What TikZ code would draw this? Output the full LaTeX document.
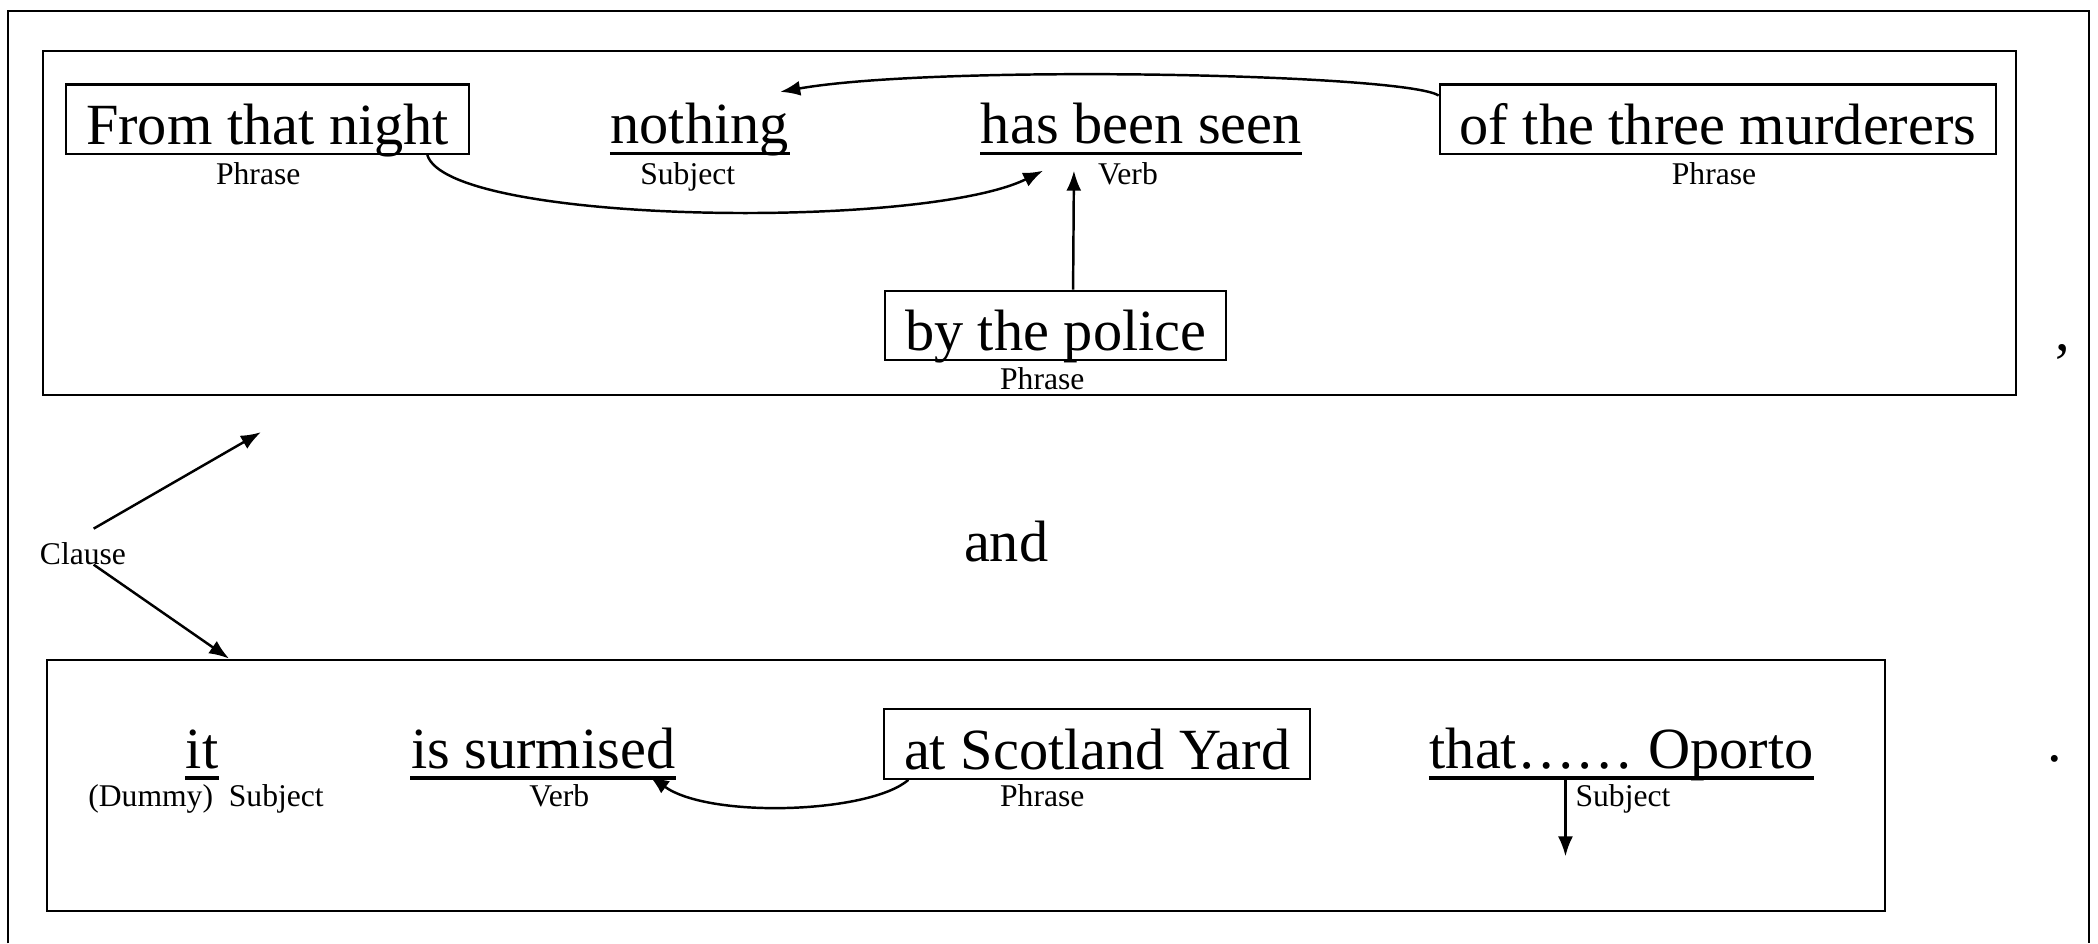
\documentclass[tikz,border=0pt]{standalone}
\usepackage{fontspec}
\setmainfont{Liberation Serif}
\usetikzlibrary{arrows.meta, positioning, calc, fit}

\newcommand{\wordfont}{\fontsize{16.6pt}{19pt}\selectfont}
\newcommand{\tagfont}{\fontsize{9pt}{11pt}\selectfont}

\tikzset{
  phrasebox/.style={draw, line width=0.6pt, inner xsep=0.2cm, inner ysep=0pt, text height=0.6cm, text depth=0.094cm, font=\wordfont, anchor=base},
  ulword/.style={inner sep=0pt, text height=0.6cm, text depth=0.094cm, font=\wordfont, anchor=base},
  tag/.style={inner sep=0pt, font=\tagfont, anchor=base},
  clausebox/.style={draw, line width=0.6pt, inner sep=0pt},
  ulline/.style={line width=1pt},
  arr/.style={-{Latex[length=2mm, width=1.5mm]}, line width=0.7pt},
}

\begin{document}
\begin{tikzpicture}[x=0.01338cm, y=-0.01338cm]
  \useasboundingbox (0,0) rectangle (1568,705);
  % Page frame (open at the bottom)
  \draw[line width=0.6pt] (6,705) -- (6,8) -- (1561,8) -- (1561,705);

  % First clause
  \node[clausebox, fit={(32,38) (1507,295)}] (clauseA) {};
  \node[phrasebox] (night) at (200,108) {From that night};
  \node[tag] (nightTag) at (193,138) {Phrase};
  \node[ulword] (nothing) at (523,107) {nothing};
  \node[tag] (nothingTag) at (514,138) {Subject};
  \node[ulword] (seen) at (853,107) {has been seen};
  \node[tag] (seenTag) at (843,138) {Verb};
  \node[phrasebox] (murder) at (1284,108) {of the three murderers};
  \node[tag] (murderTag) at (1281,138) {Phrase};
  \node[phrasebox] (police) at (789,262) {by the police};
  \node[tag] (policeTag) at (779,291) {Phrase};
  \draw[ulline] (nothing.south west) -- (nothing.south east);
  \draw[ulline] (seen.south west) -- (seen.south east);

  \draw[arr] ($(night.south east)+(-32,0)$) .. controls (335,168) and (690,172) .. ($(seen.south west)+(47,13)$);
  \draw[arr] ($(murder.north west)+(0,9)$) .. controls (1050,55) and (700,48) .. ($(nothing.north east)+(-7,7)$);
  \draw[arr] ($(police.north)+(13,0)$) -- ($(seen.south west)+(70,13)$);
  \node[font=\wordfont, inner sep=0pt, anchor=base] (comma) at (1542,262) {,};

  % Link between the clauses
  \node[tag] (clause) at (62,422) {Clause};
  \node[font=\wordfont, inner sep=0pt, anchor=base] (and) at (752,420) {and};
  \coordinate (upTip) at (195,323);
  \draw[arr] ($(clause.north)+(8,-10)$) -- (upTip);

  % Second clause
  \node[clausebox, fit={(35,493) (1409,681)}] (clauseB) {};
  \draw[arr] ($(clause.base)+(8,0)$) -- ($(clauseB.north west)+(137,0)$);
  \node[ulword] (it) at (151,574) {it};
  \node[tag] (itTag) at (154,603) {(Dummy)~~Subject};
  \node[ulword] (surm) at (406,574) {is surmised};
  \node[tag] (surmTag) at (418,603) {Verb};
  \node[phrasebox] (yard) at (820,575) {at Scotland Yard};
  \node[tag] (yardTag) at (779,603) {Phrase};
  \node[ulword] (oporto) at (1212,574) {that…… Oporto};
  \node[tag] (oportoTag) at (1213,603) {Subject};
  \draw[ulline] (it.south west) -- (it.south east);
  \draw[ulline] (surm.south west) -- (surm.south east);
  \draw[ulline] (oporto.south west) -- (oporto.south east);

  \draw[arr] ($(yard.south west)+(19,0)$) .. controls (650,608) and (530,612) .. ($(surm.south east)+(-20,-2)$);
  \coordinate (oportoTip) at (1170,640);
  \draw[arr] (oporto.south -| oportoTip) -- (oportoTip);
  \node[font=\wordfont, inner sep=0pt, anchor=base] (stop) at (1536,569) {.};
\end{tikzpicture}
\end{document}
